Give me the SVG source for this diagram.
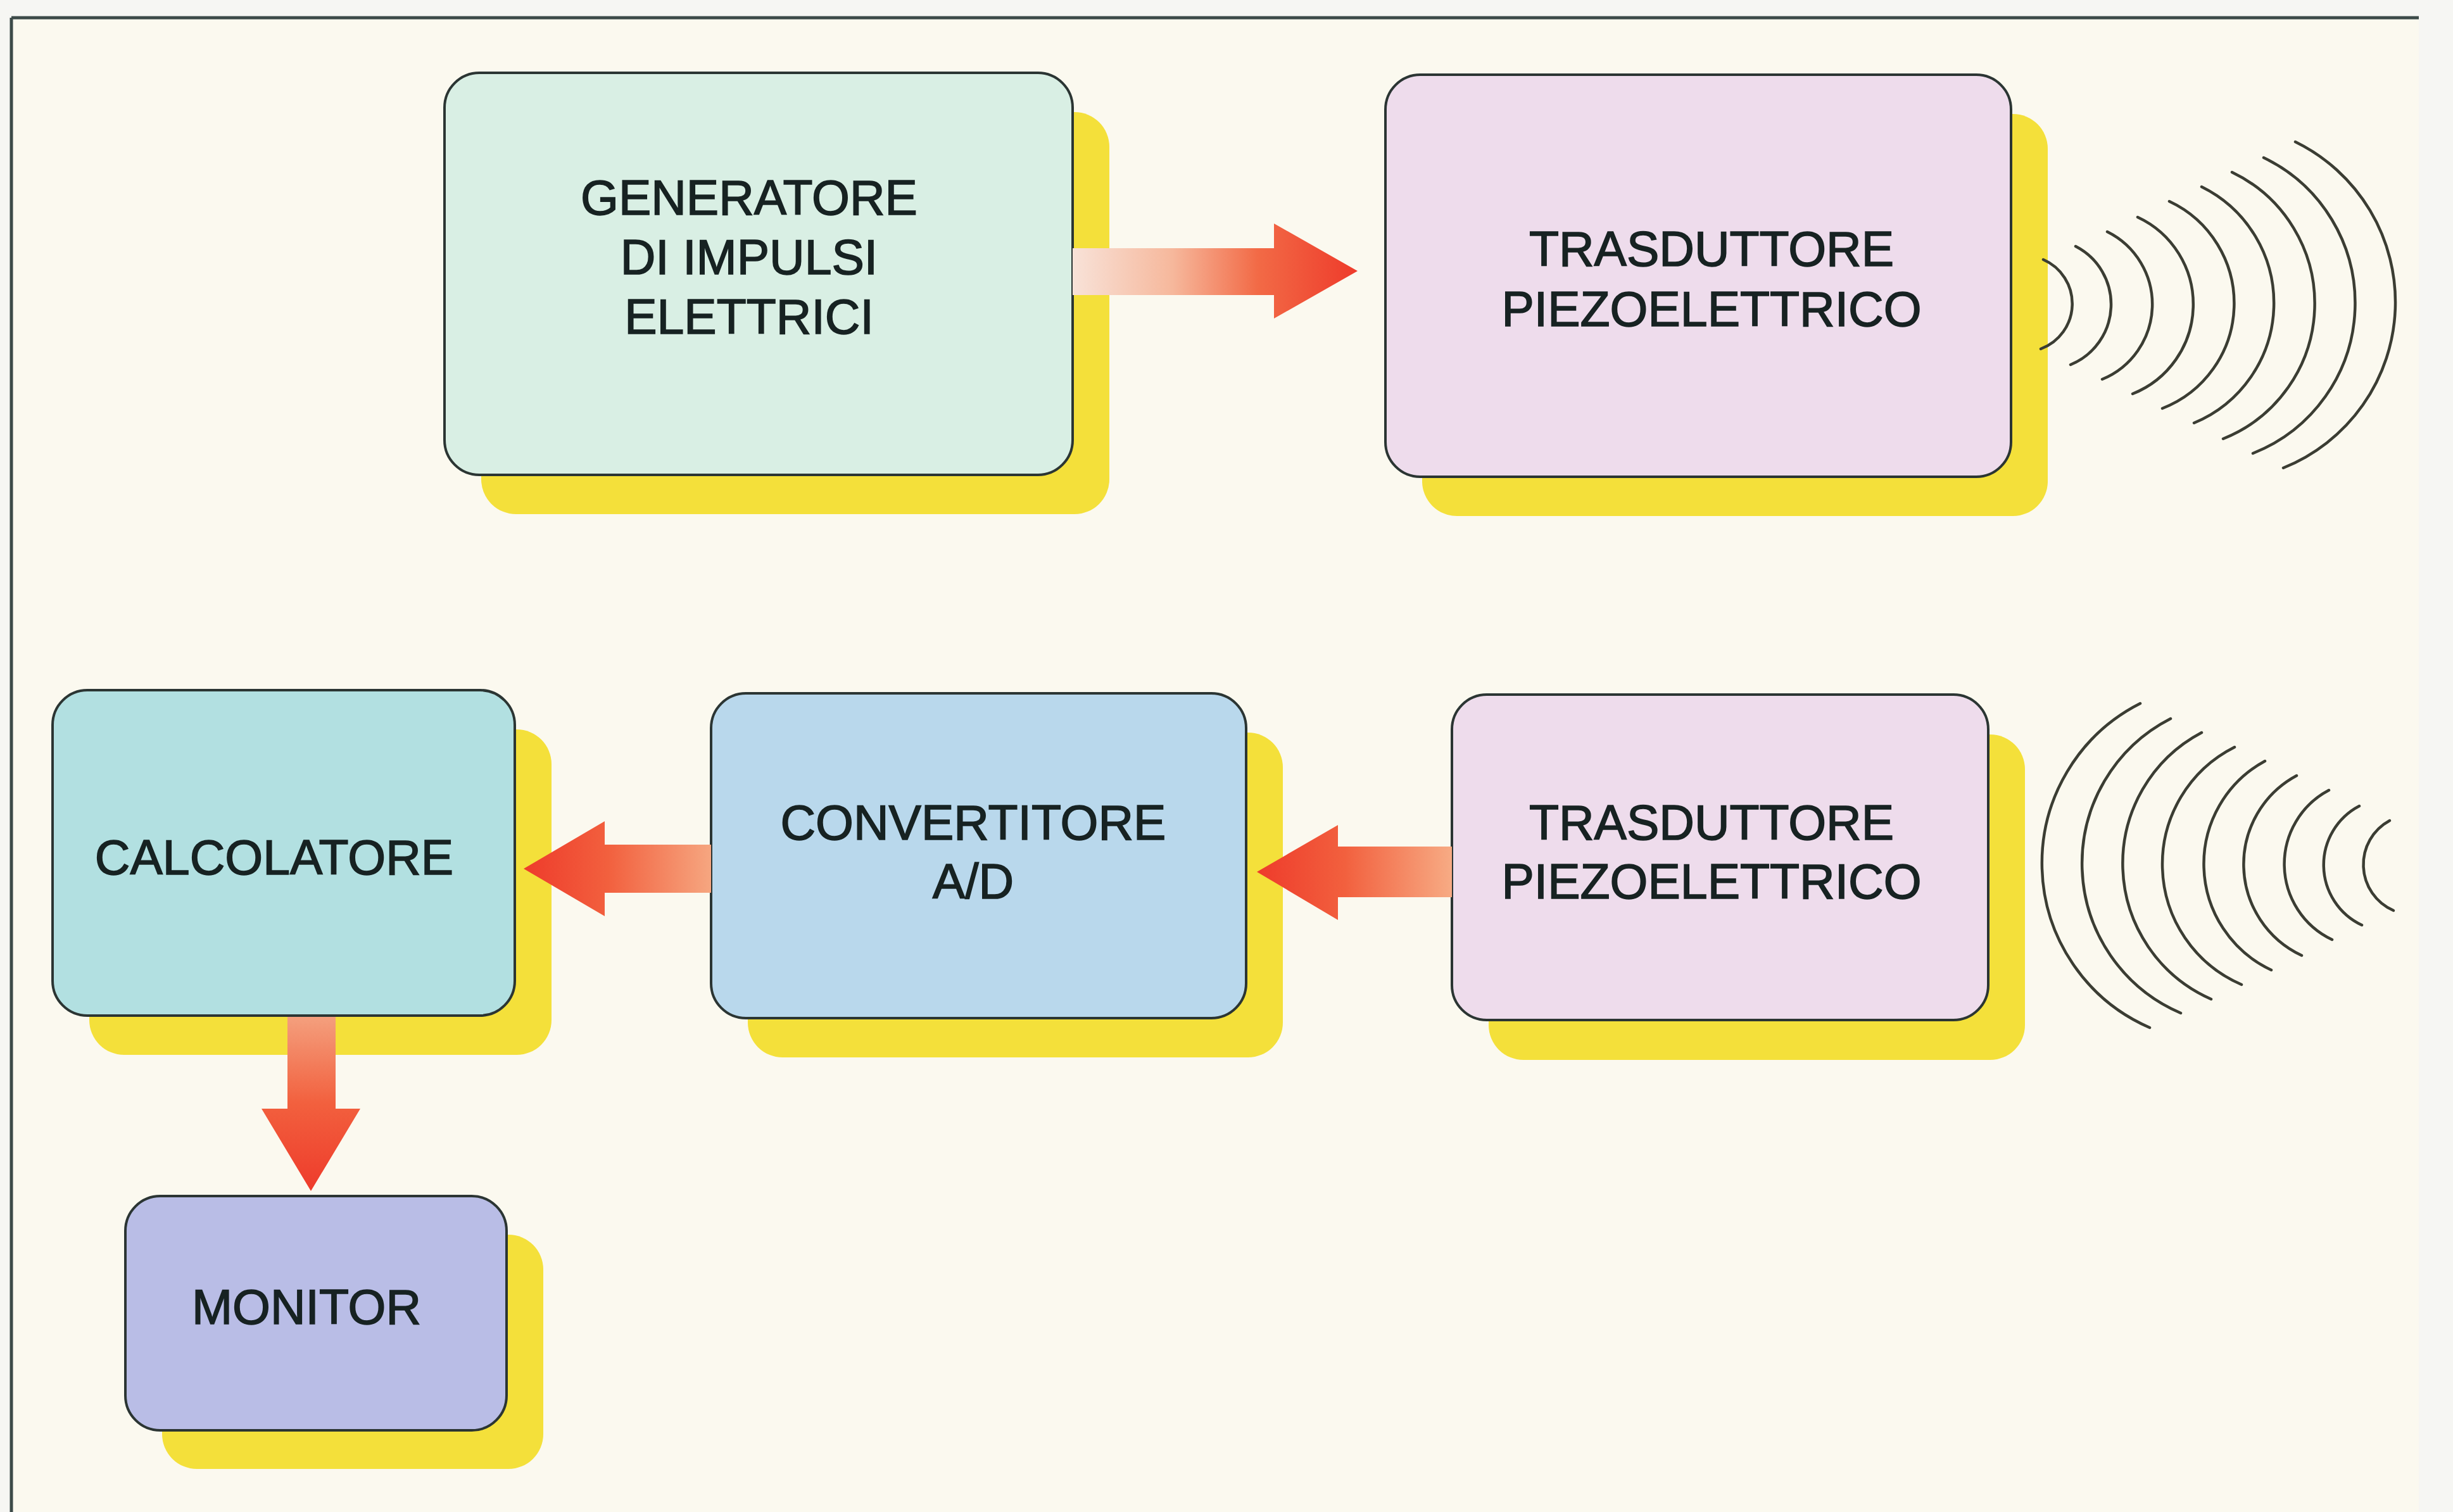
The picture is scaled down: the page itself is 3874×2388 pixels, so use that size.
<svg xmlns="http://www.w3.org/2000/svg" width="3874" height="2388" viewBox="0 0 3874 2388">
<style>
.box{stroke:#2b3533;stroke-width:4}
.shadow{fill:#f4e03a}
.lbl{font-family:"Liberation Sans",Arial,Helvetica,sans-serif;font-size:77px;fill:#172222;stroke:#172222;stroke-width:1.6;text-anchor:middle}
.wave{fill:none;stroke:#3b3d33;stroke-width:4.5;stroke-linecap:round}
</style>
<defs>
<linearGradient id="gTop" gradientUnits="userSpaceOnUse" x1="1694" y1="0" x2="2144" y2="0">
<stop offset="0" stop-color="#f8e2d8"/><stop offset="0.35" stop-color="#f6b89c"/><stop offset="0.65" stop-color="#f26a46"/><stop offset="1" stop-color="#ee3b2b"/>
</linearGradient>
<linearGradient id="gConv" gradientUnits="userSpaceOnUse" x1="2293" y1="0" x2="1985" y2="0">
<stop offset="0" stop-color="#f7ab84"/><stop offset="0.55" stop-color="#f2603e"/><stop offset="1" stop-color="#ee3b2b"/>
</linearGradient>
<linearGradient id="gCalc" gradientUnits="userSpaceOnUse" x1="1123" y1="0" x2="827" y2="0">
<stop offset="0" stop-color="#f6a680"/><stop offset="0.55" stop-color="#f2603e"/><stop offset="1" stop-color="#ee3b2b"/>
</linearGradient>
<linearGradient id="gMon" gradientUnits="userSpaceOnUse" x1="0" y1="1604" x2="0" y2="1881">
<stop offset="0" stop-color="#f4a07e"/><stop offset="0.5" stop-color="#f2603e"/><stop offset="1" stop-color="#ee3b2b"/>
</linearGradient>
</defs>

<rect x="0" y="0" width="3874" height="2388" fill="#f6f6f3"/>
<rect x="18" y="28" width="3802" height="2360" fill="#fbf9ef"/>
<line x1="18" y1="28" x2="3820" y2="28" stroke="#3c4a48" stroke-width="5"/>
<line x1="18" y1="28" x2="18" y2="2388" stroke="#3c4a48" stroke-width="5"/>

<g id="generatore">
<rect class="shadow" x="760" y="177" width="992" height="635" rx="55"/>
<rect class="box" x="702" y="115" width="992" height="635" rx="55" fill="#d9efe4"/>
<text class="lbl" x="1183" y="339">GENERATORE</text>
<text class="lbl" x="1183" y="433">DI IMPULSI</text>
<text class="lbl" x="1183" y="527">ELETTRICI</text>
</g>

<g id="trasduttore-tx">
<rect class="shadow" x="2246" y="180" width="988" height="635" rx="55"/>
<rect class="box" x="2188" y="118" width="988" height="635" rx="55" fill="#eedcec"/>
<text class="lbl" x="2703" y="420">TRASDUTTORE</text>
<text class="lbl" x="2703" y="515">PIEZOELETTRICO</text>
</g>

<g id="onde-tx">
<path class="wave" d="M3227,410 A76,76 0 0 1 3223,551"/>
<path class="wave" d="M3278,389 A103,103 0 0 1 3270,576"/>
<path class="wave" d="M3328,366 A128,128 0 0 1 3320,599"/>
<path class="wave" d="M3376,343 A152,152 0 0 1 3368,622"/>
<path class="wave" d="M3426,318 A178,178 0 0 1 3415,645"/>
<path class="wave" d="M3477,295 A205,205 0 0 1 3465,668"/>
<path class="wave" d="M3525,272 A230,230 0 0 1 3511,693"/>
<path class="wave" d="M3575,249 A255,255 0 0 1 3558,716"/>
<path class="wave" d="M3625,224 A282,282 0 0 1 3606,739"/>
</g>

<g id="calcolatore">
<rect class="shadow" x="141" y="1152" width="730" height="514" rx="55"/>
<rect class="box" x="83" y="1090" width="730" height="514" rx="55" fill="#b2e0e1"/>
<text class="lbl" x="433" y="1381">CALCOLATORE</text>
</g>

<g id="convertitore">
<rect class="shadow" x="1181" y="1157" width="845" height="513" rx="55"/>
<rect class="box" x="1123" y="1095" width="845" height="513" rx="55" fill="#b9d8ec"/>
<text class="lbl" x="1537" y="1326">CONVERTITORE</text>
<text class="lbl" x="1537" y="1419">A/D</text>
</g>

<g id="trasduttore-rx">
<rect class="shadow" x="2351" y="1160" width="847" height="514" rx="55"/>
<rect class="box" x="2293" y="1097" width="847" height="514" rx="55" fill="#eedcec"/>
<text class="lbl" x="2703" y="1326">TRASDUTTORE</text>
<text class="lbl" x="2703" y="1419">PIEZOELETTRICO</text>
</g>

<g id="onde-rx">
<path class="wave" d="M3380,1111 A283,283 0 0 0 3395,1623"/>
<path class="wave" d="M3428,1135 A257,257 0 0 0 3444,1600"/>
<path class="wave" d="M3477,1157 A234,234 0 0 0 3492,1578"/>
<path class="wave" d="M3529,1180 A207,207 0 0 0 3540,1555"/>
<path class="wave" d="M3577,1202 A185,185 0 0 0 3587,1532"/>
<path class="wave" d="M3627,1225 A159,159 0 0 0 3635,1509"/>
<path class="wave" d="M3678,1248 A132,132 0 0 0 3683,1484"/>
<path class="wave" d="M3726,1273 A105,105 0 0 0 3730,1461"/>
<path class="wave" d="M3774,1296 A79,79 0 0 0 3780,1438"/>
</g>

<g id="monitor">
<rect class="shadow" x="256" y="1950" width="602" height="370" rx="55"/>
<rect class="box" x="198" y="1889" width="602" height="370" rx="55" fill="#b9bde6"/>
<text class="lbl" x="484" y="2091">MONITOR</text>
</g>

<g id="connettori">
<path d="M1694,392 L2012,392 L2012,353 L2144,428 L2012,503 L2012,466 L1694,466 Z" fill="url(#gTop)"/>
<path d="M2293,1337 L2113,1337 L2113,1303 L1985,1377 L2113,1453 L2113,1417 L2293,1417 Z" fill="url(#gConv)"/>
<path d="M1123,1334 L955,1334 L955,1297 L827,1372 L955,1447 L955,1410 L1123,1410 Z" fill="url(#gCalc)"/>
<path d="M454,1606 L530,1606 L530,1751 L569,1751 L491,1881 L413,1751 L454,1751 Z" fill="url(#gMon)"/>
</g>
</svg>
